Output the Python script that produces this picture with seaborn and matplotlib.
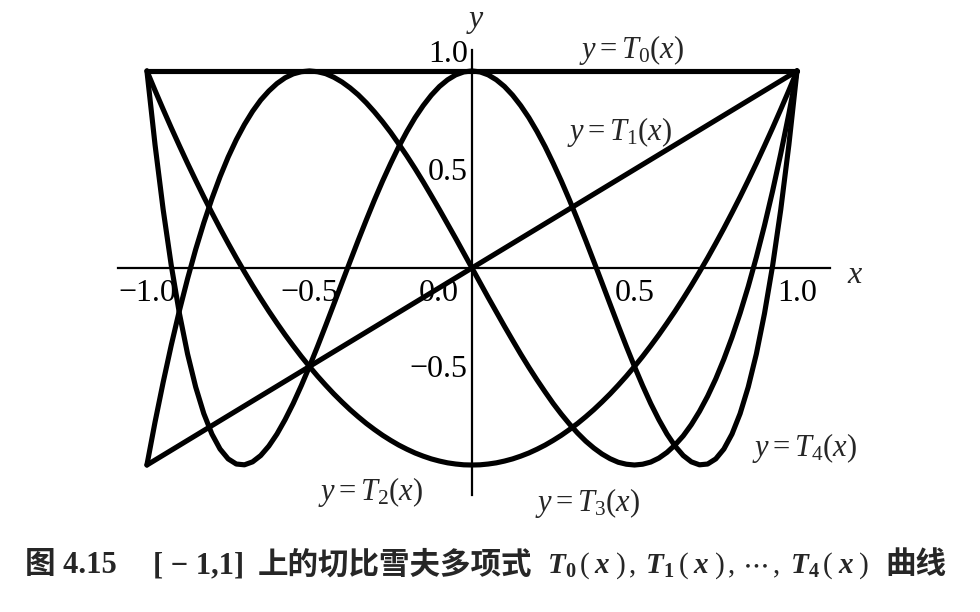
import numpy as np
import pandas as pd
import matplotlib
matplotlib.use('Agg')
import matplotlib.pyplot as plt
import matplotlib.transforms as mtrans
import seaborn as sns

# ==========================================
# DATA
# ==========================================
t0_x = [-1.0, 1.0]
t0_y = [1.0, 1.0]

t1_x = [-1.0, 0.0, 1.0]
t1_y = [-1.0, 0.0, 1.0]

x_grid = [-1.000, -0.975, -0.950, -0.925, -0.900, -0.875, -0.850, -0.825, -0.800, -0.775,
          -0.750, -0.725, -0.700, -0.675, -0.650, -0.625, -0.600, -0.575, -0.550, -0.525,
          -0.500, -0.475, -0.450, -0.425, -0.400, -0.375, -0.350, -0.325, -0.300, -0.275,
          -0.250, -0.225, -0.200, -0.175, -0.150, -0.125, -0.100, -0.075, -0.050, -0.025,
          0.000,
          0.025, 0.050, 0.075, 0.100, 0.125, 0.150, 0.175, 0.200, 0.225, 0.250,
          0.275, 0.300, 0.325, 0.350, 0.375, 0.400, 0.425, 0.450, 0.475, 0.500,
          0.525, 0.550, 0.575, 0.600, 0.625, 0.650, 0.675, 0.700, 0.725, 0.750,
          0.775, 0.800, 0.825, 0.850, 0.875, 0.900, 0.925, 0.950, 0.975, 1.000]

t2_y = [1.0, 0.901, 0.805, 0.711, 0.620, 0.531, 0.445, 0.361, 0.280, 0.201,
        0.125, 0.051, -0.020, -0.089, -0.155, -0.219, -0.280, -0.339, -0.395, -0.449,
        -0.500, -0.549, -0.595, -0.639, -0.680, -0.719, -0.755, -0.789, -0.820, -0.849,
        -0.875, -0.899, -0.920, -0.939, -0.955, -0.969, -0.980, -0.989, -0.995, -0.999,
        -1.0,
        -0.999, -0.995, -0.989, -0.980, -0.969, -0.955, -0.939, -0.920, -0.899, -0.875,
        -0.849, -0.820, -0.789, -0.755, -0.719, -0.680, -0.639, -0.595, -0.549, -0.500,
        -0.449, -0.395, -0.339, -0.280, -0.219, -0.155, -0.089, -0.020, 0.051, 0.125,
        0.201, 0.280, 0.361, 0.445, 0.531, 0.620, 0.711, 0.805, 0.901, 1.0]

t3_y = [-1.0, -0.782, -0.580, -0.391, -0.216, -0.055, 0.094, 0.229, 0.352, 0.463,
        0.563, 0.651, 0.728, 0.795, 0.852, 0.898, 0.936, 0.965, 0.985, 0.996,
        1.0, 0.996, 0.986, 0.968, 0.944, 0.914, 0.879, 0.838, 0.792, 0.742,
        0.688, 0.629, 0.568, 0.504, 0.437, 0.367, 0.296, 0.223, 0.150, 0.075,
        0.0,
        -0.075, -0.150, -0.223, -0.296, -0.367, -0.437, -0.504, -0.568, -0.629, -0.688,
        -0.742, -0.792, -0.838, -0.879, -0.914, -0.944, -0.968, -0.986, -0.996, -1.0,
        -0.996, -0.985, -0.965, -0.936, -0.898, -0.852, -0.795, -0.728, -0.651, -0.563,
        -0.463, -0.352, -0.229, -0.094, 0.055, 0.216, 0.391, 0.580, 0.782, 1.0]

t4_y = [1.0, 0.625, 0.296, 0.012, -0.231, -0.436, -0.604, -0.739, -0.843, -0.919,
        -0.969, -0.995, -0.999, -0.984, -0.952, -0.904, -0.843, -0.770, -0.688, -0.597,
        -0.500, -0.398, -0.292, -0.184, -0.075, 0.033, 0.140, 0.244, 0.345, 0.441,
        0.531, 0.616, 0.693, 0.763, 0.824, 0.877, 0.921, 0.955, 0.980, 0.995,
        1.0,
        0.995, 0.980, 0.955, 0.921, 0.877, 0.824, 0.763, 0.693, 0.616, 0.531,
        0.441, 0.345, 0.244, 0.140, 0.033, -0.075, -0.184, -0.292, -0.398, -0.500,
        -0.597, -0.688, -0.770, -0.843, -0.904, -0.952, -0.984, -0.999, -0.995, -0.969,
        -0.919, -0.843, -0.739, -0.604, -0.436, -0.231, 0.012, 0.296, 0.625, 1.0]

x_ticks = [-1.0, -0.5, 0.0, 0.5, 1.0]
x_tick_labels = ['\u22121.0', '\u22120.5', '0.0', '0.5', '1.0']
y_ticks = [-0.5, 0.5, 1.0]
y_tick_labels = ['\u22120.5', '0.5', '1.0']

curve_labels = [r'$y = T_0(x)$', r'$y = T_1(x)$', r'$y = T_2(x)$',
                r'$y = T_3(x)$', r'$y = T_4(x)$']

# ==========================================
# STYLING
# ==========================================
sns.set_theme(style='white')
plt.rcParams['font.family'] = ['Liberation Serif', 'Noto Sans CJK SC', 'DejaVu Sans']
plt.rcParams['mathtext.fontset'] = 'custom'
plt.rcParams['mathtext.rm'] = 'Liberation Serif'
plt.rcParams['mathtext.it'] = 'Liberation Serif:italic'
plt.rcParams['mathtext.bf'] = 'Liberation Serif:bold'
plt.rcParams['mathtext.bfit'] = 'Liberation Serif:italic:bold'

LW = 3.7
CJK = ['Liberation Serif', 'Noto Sans CJK SC']

fig = plt.figure(figsize=(9.8, 6.12), dpi=100)
ax = fig.add_axes([0, 0, 1, 1])

for xs, ys in [(t0_x, t0_y), (t1_x, t1_y), (x_grid, t2_y), (x_grid, t3_y), (x_grid, t4_y)]:
    sns.lineplot(x=xs, y=ys, ax=ax, color='black', linewidth=LW, sort=False,
                 estimator=None, solid_capstyle='round', solid_joinstyle='round')

ax.set_xlim(-1.452, 1.563)
ax.set_ylim(-1.746, 1.360)
ax.set_xlabel('')
ax.set_ylabel('')

# axes through the origin
for side in ['top', 'right']:
    ax.spines[side].set_visible(False)
ax.spines['left'].set_position(('data', 0))
ax.spines['bottom'].set_position(('data', 0))
ax.spines['left'].set_bounds(-1.152, 1.107)
ax.spines['bottom'].set_bounds(-1.089, 1.10)
for side in ['left', 'bottom']:
    ax.spines[side].set_color('black')
    ax.spines[side].set_linewidth(1.6)

ax.set_xticks(x_ticks)
ax.set_xticklabels(x_tick_labels)
ax.set_yticks(y_ticks)
ax.set_yticklabels(y_tick_labels)
ax.tick_params(direction='in', length=7, width=1.3, colors='black', labelsize=23)
ax.tick_params(axis='x', pad=8)
ax.tick_params(axis='y', pad=3)

# nudge the "0.0" and "1.0" labels like in the original
zero_lab = ax.get_xticklabels()[2]
zero_lab.set_transform(zero_lab.get_transform() +
                       mtrans.ScaledTranslation(-24 / 72, 0, fig.dpi_scale_trans))
one_lab = ax.get_yticklabels()[2]
one_lab.set_transform(one_lab.get_transform() +
                      mtrans.ScaledTranslation(0, 14 / 72, fig.dpi_scale_trans))

ax.text(1.178, -0.036, r'$x$', fontsize=23, ha='center', va='center')
ax.text(0.012, 1.249, r'$y$', fontsize=23, ha='center', va='center')

# curve labels (pixel centres converted to data units)
label_pos = [(0.492, 1.107), (0.455, 0.690), (-0.311, -1.137), (0.354, -1.193), (1.022, -0.914)]
for txt, (lx, ly) in zip(curve_labels, label_pos):
    ax.text(lx, ly, txt, fontsize=22, ha='center', va='center')

# caption
cap_y = 1 - 566 / 612
fig.text(25 / 980, cap_y, '图 4.15', fontsize=22, fontweight='bold', va='center', family=CJK)
fig.text(153 / 980, cap_y, '[ \u2212 1,1]', fontsize=22, fontweight='bold', va='center',
         family=CJK)
fig.text(258 / 980, cap_y, '上的切比雪夫多项式', fontsize=22, fontweight='bold',
         va='center', family=CJK)
fig.text(547 / 980, cap_y,
         r'$\mathbfit{T}_{\mathbf{0}}\,(\;\mathbfit{x}\;)\,,\;\mathbfit{T}_{\mathbf{1}}\,(\;\mathbfit{x}\;)\,,\,\cdots\,,\;'
         r'\mathbfit{T}_{\mathbf{4}}\,(\;\mathbfit{x}\;)$',
         fontsize=21, va='center')
fig.text(885 / 980, cap_y, '曲线', fontsize=22, fontweight='bold', va='center', family=CJK)

plt.savefig('out.png', dpi=100)
